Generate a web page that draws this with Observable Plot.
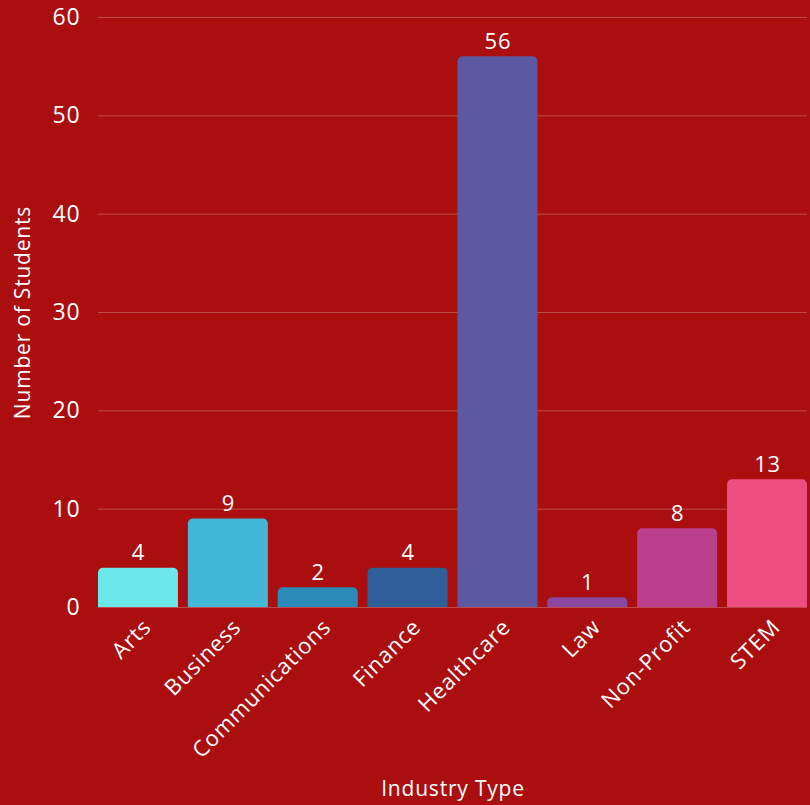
<!DOCTYPE html>
<html>
<head>
<meta charset="utf-8">
<script src="https://cdn.jsdelivr.net/npm/d3@7"></script>
<script src="https://cdn.jsdelivr.net/npm/@observablehq/plot@0.6"></script>
<style>
  html, body { margin: 0; padding: 0; background: #AA0E0E; }
  #chart svg { display: block; }
</style>
</head>
<body>
<div id="chart"></div>
<script>
const industries = ["Arts", "Business", "Communications", "Finance", "Healthcare", "Law", "Non-Profit", "STEM"];
const students = [4, 9, 2, 4, 56, 1, 8, 13];
const colors = ["#6DE8EA", "#42B8D6", "#2C8AB8", "#2E5F98", "#5C58A2", "#8A48A0", "#BC3F8E", "#EE4D80"];
const yTicks = [0, 10, 20, 30, 40, 50, 60];

const data = industries.map((name, i) => ({name, value: students[i], color: colors[i]}));

const chart = Plot.plot({
  width: 810,
  height: 805,
  marginTop: 17,
  marginBottom: 198,
  marginLeft: 98,
  marginRight: 3,
  style: {background: "#AA0E0E", color: "white", fontFamily: "'Open Sans', sans-serif", fontSize: "21px", letterSpacing: "0.8px"},
  x: {domain: industries, paddingInner: 0.11, paddingOuter: 0, round: false, label: null},
  y: {domain: [0, 60], ticks: yTicks, label: null},
  marks: [
    Plot.ruleY(yTicks, {stroke: "rgba(255,255,255,0.25)", strokeWidth: 1}),
    Plot.barY(data, {x: "name", y: "value", fill: "color", rx: 5}),
    Plot.barY(data, {x: "name", y1: 0, y2: d => Math.min(d.value, 0.6), fill: "color"}),
    Plot.text(data, {x: "name", y: "value", text: d => String(d.value), dy: -15, fill: "white", fontSize: 22}),
    Plot.axisX({label: null, tickSize: 0, tickPadding: 16, dx: 9, tickRotate: -45, fontSize: 22, fill: "white", style: {letterSpacing: "1.3px"}}),
    Plot.axisY({ticks: yTicks, label: null, tickSize: 0, tickPadding: 18, fontSize: 23, fill: "white"}),
    Plot.text(["Number of Students"], {frameAnchor: "left", textAnchor: "middle", dx: -75, rotate: -90, fill: "white", fontSize: 21}),
    Plot.text(["Industry Type"], {frameAnchor: "bottom", dy: 188, fill: "white", fontSize: 21})
  ]
});
document.getElementById("chart").appendChild(chart);
</script>
</body>
</html>
